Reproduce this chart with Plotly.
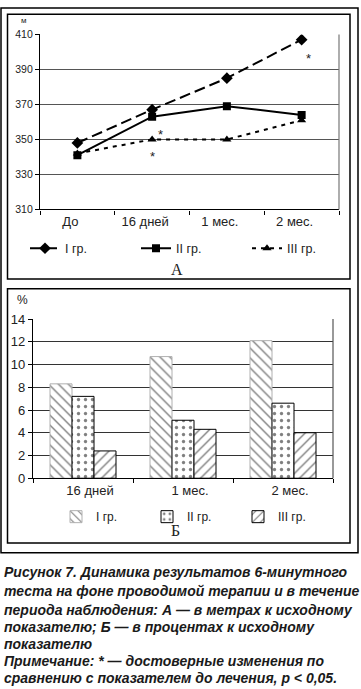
import plotly.graph_objects as go

W, H = 361, 689

# ---- Data ----
periods_a = ["До", "16 дней", "1 мес.", "2 мес."]
group_names = ["I гр.", "II гр.", "III гр."]
dist_g1 = [348, 367, 385, 407]
dist_g2 = [341, 363, 369, 364]
dist_g3 = [342, 350, 350, 361]
# asterisks (category index, value, x shift px)
stars_a = [(3, 396, 7), (1, 353, 8), (1, 340, 0)]

periods_b = ["16 дней", "1 мес.", "2 мес."]
pct_g1 = [8.3, 10.7, 12.1]
pct_g2 = [7.2, 5.1, 6.6]
pct_g3 = [2.4, 4.3, 4.0]

caption_lines = [
    "Рисунок 7. Динамика результатов 6-минутного",
    "теста на фоне проводимой терапии и в течение",
    "периода наблюдения: А — в метрах к исходному",
    "показателю; Б — в процентах к исходному",
    "показателю",
    "Примечание: * — достоверные изменения по",
    "сравнению с показателем до лечения, p < 0,05.",
]


def px(x):
    return x / W


def py(y):
    return 1 - y / H


fig = go.Figure()

line_styles = [
    dict(dash="11px,5px", symbol="diamond", size=9),
    dict(dash="solid", symbol="square", size=8),
    dict(dash="4px,5px", symbol="triangle-up", size=8),
]
for name, vals, st in zip(group_names, [dist_g1, dist_g2, dist_g3], line_styles):
    fig.add_trace(go.Scatter(
        x=periods_a, y=vals, name=name, mode="lines+markers",
        line=dict(color="black", width=2, dash=st["dash"]),
        marker=dict(symbol=st["symbol"], size=st["size"], color="black"),
        xaxis="x", yaxis="y", legend="legend",
    ))

patterns = [("\\", "#b0b0b0", 0.2), (".", "black", 0.18), ("/", "black", 0.2)]
for name, vals, (shape, lc, sol) in zip(group_names, [pct_g1, pct_g2, pct_g3], patterns):
    fig.add_trace(go.Bar(
        x=periods_b, y=vals, name=name,
        marker=dict(color="white", line=dict(color=lc, width=1),
                    pattern=dict(shape=shape, fgcolor="black", bgcolor="white",
                                 size=7, solidity=sol)),
        xaxis="x2", yaxis="y2", legend="legend2",
    ))

axis_font = dict(family="Liberation Sans, Arial", color="#222")

fig.update_layout(
    width=W, height=H, margin=dict(l=0, r=0, t=0, b=0),
    paper_bgcolor="white", plot_bgcolor="white",
    barmode="group", bargap=0.34, bargroupgap=0,
    xaxis=dict(domain=[px(40), px(339)], anchor="y", type="category",
               range=[-0.5, 3.5], showgrid=False, showline=True,
               linecolor="black", linewidth=1.2, ticks="outside",
               tickson="boundaries", ticklen=4, tickcolor="black",
               ticklabelshift=-7,
               tickfont=dict(size=13, **axis_font)),
    yaxis=dict(domain=[py(207), py(28)], anchor="x", range=[310, 410],
               tick0=310, dtick=20, showgrid=True, gridcolor="#555", gridwidth=1.2,
               showline=True, linecolor="black", linewidth=1.2,
               ticks="outside", ticklen=4, tickcolor="black",
               tickfont=dict(size=10.5, **axis_font), zeroline=False),
    xaxis2=dict(domain=[px(33), px(333)], anchor="y2", type="category",
                range=[-0.5, 2.5], showgrid=False, showline=True,
                linecolor="black", linewidth=1.2, ticks="outside",
                tickson="boundaries", ticklen=4, tickcolor="black",
                ticklabelshift=7,
                tickfont=dict(size=13, **axis_font)),
    yaxis2=dict(domain=[py(481.7), py(319)], anchor="x2", range=[0, 14],
                dtick=2, showgrid=True, gridcolor="#333", gridwidth=1.2,
                showline=True, linecolor="black", linewidth=1.2,
                ticks="outside", ticklen=4, tickcolor="black",
                tickfont=dict(size=13, **axis_font), zeroline=False),
    legend=dict(orientation="h", x=px(25), y=py(247), xanchor="left",
                yanchor="middle", bgcolor="rgba(0,0,0,0)",
                font=dict(size=12.5, **axis_font), entrywidth=66,
                entrywidthmode="pixels", traceorder="normal"),
    legend2=dict(orientation="h", x=px(56), y=py(521), xanchor="left",
                 yanchor="middle", bgcolor="rgba(0,0,0,0)",
                 font=dict(size=12, **axis_font), entrywidth=46,
                 entrywidthmode="pixels", traceorder="normal"),
    showlegend=True,
)

shapes = [
    dict(type="rect", xref="paper", yref="paper", x0=px(1), x1=px(358),
         y0=py(558), y1=py(1), line=dict(color="black", width=1.5)),
    dict(type="rect", xref="paper", yref="paper", x0=px(7.5), x1=px(350),
         y0=py(278), y1=py(7.5), line=dict(color="black", width=1.5)),
    dict(type="rect", xref="paper", yref="paper", x0=px(7.5), x1=px(350),
         y0=py(548), y1=py(288), line=dict(color="black", width=1.5)),
    dict(type="line", xref="x domain", yref="y domain", x0=1, x1=1, y0=0, y1=1,
         line=dict(color="#777", width=1.2)),
    dict(type="line", xref="x2 domain", yref="y2 domain", x0=1, x1=1, y0=0, y1=1,
         line=dict(color="#555", width=1.2)),
]
fig.update_layout(shapes=shapes)

ann = []
for xi, yv, sh in stars_a:
    ann.append(dict(x=xi, y=yv, xref="x", yref="y", text="*", showarrow=False,
                    xshift=sh, xanchor="center", yanchor="middle",
                    font=dict(size=13, **axis_font)))
label_specs = [
    ("м", 24, 14, 8, "Liberation Sans"),
    ("%", 22, 300, 12, "Liberation Sans"),
    ("А", 177, 268, 16, "Liberation Serif"),
    ("Б", 175, 535, 16, "Liberation Serif"),
]
for t, xx, yy, fs, fam in label_specs:
    ann.append(dict(x=px(xx), y=py(yy), xref="paper", yref="paper", text=t,
                    showarrow=False, xanchor="center", yanchor="middle",
                    font=dict(size=fs, family=fam, color="#222")))
cap_y = [578, 597, 616, 634, 651, 669, 686]
for t, yy in zip(caption_lines, cap_y):
    ann.append(dict(x=px(2), y=py(yy), xref="paper", yref="paper", text=t,
                    showarrow=False, xanchor="left", yanchor="middle",
                    font=dict(size=14, family="Liberation Sans, Arial", color="#1a1a1a",
                              weight="bold", style="italic")))
fig.update_layout(annotations=ann)

fig.write_html("out.html", config={"displayModeBar": False},
               post_script="document.body.style.margin='0px';document.body.style.overflow='hidden';")
